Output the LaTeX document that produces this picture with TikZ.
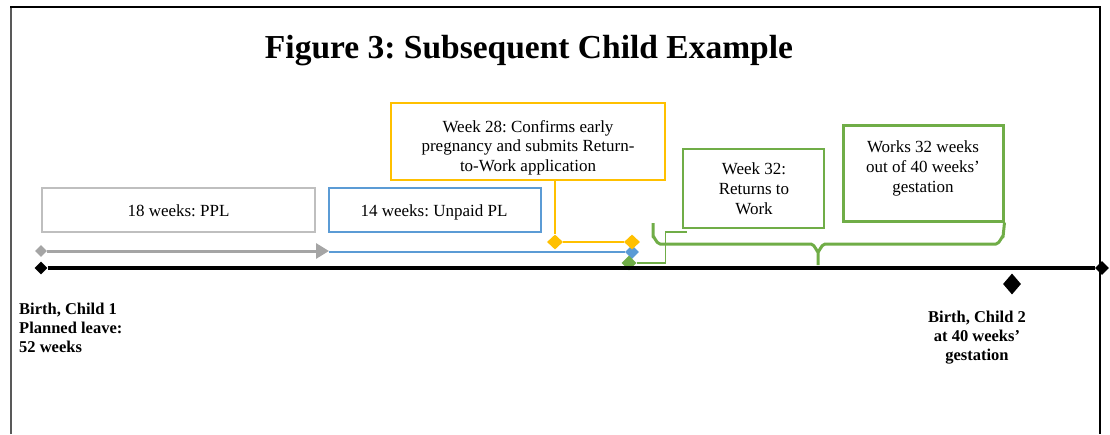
\documentclass[tikz,border=0pt]{standalone}
\usepackage{fontspec}
\setmainfont{Liberation Serif}
\frenchspacing
\usetikzlibrary{shapes.geometric,arrows.meta}
\definecolor{cgray}{HTML}{A5A5A5}
\definecolor{cgraybox}{HTML}{BFBFBF}
\definecolor{cblue}{HTML}{5B9BD5}
\definecolor{cyellow}{HTML}{FFC000}
\definecolor{cgreen}{HTML}{70AD47}
\definecolor{cframe}{HTML}{595959}
\begin{document}
\begin{tikzpicture}[x=1pt,y=-1pt,
  box/.style={draw,rectangle,inner sep=0pt,line width=1.2pt},
  txt/.style={inner sep=0pt,anchor=north,align=center,font=\fontsize{17}{19.7}\selectfont},
  lbl/.style={inner sep=0pt,font=\fontsize{16.5}{19}\selectfont\bfseries},
  dia/.style={diamond,aspect=1,inner sep=0pt,draw=none}
]
\useasboundingbox (0,0) rectangle (1110,434);
% frame
\draw[cframe,line width=2pt] (11,434) -- (11,6.3);
\draw[black,line width=1.5pt] (10,7) -- (1100,7) -- (1100,434);
% title
\node[inner sep=0pt,anchor=base,font=\fontsize{33.5}{38}\selectfont\bfseries] (title) at (529,58) {Figure 3: Subsequent Child Example};
% boxes
\node[box,draw=cgraybox,minimum width=273pt,minimum height=44pt] (pplbox) at (178.5,210) {};
\node[txt] (ppltxt) at (178.5,204.5) {18 weeks: PPL};
\node[box,draw=cblue,minimum width=212pt,minimum height=44pt] (upbox) at (435,210) {};
\node[txt] (uptxt) at (434,204.5) {14 weeks: Unpaid PL};
\node[box,draw=cyellow,line width=1.5pt,minimum width=274pt,minimum height=77pt] (ybox) at (528,141.5) {};
\node[txt] (ytxt) at (528,120) {Week 28: Confirms early\\pregnancy and submits Return-\\to-Work application};
\node[box,draw=cgreen,minimum width=141pt,minimum height=79pt] (rbox) at (753.5,188.5) {};
\node[txt] (rtxt) at (754,163) {Week 32:\\Returns to\\Work};
\node[box,draw=cgreen,line width=3pt,minimum width=160pt,minimum height=96pt] (wbox) at (923,173) {};
\node[txt] (wtxt) at (923,141) {Works 32 weeks\\out of 40 weeks’\\gestation};
% diamonds
\node[dia,fill=black,minimum width=13pt,minimum height=13pt] (t0) at (41,268) {};
\node[dia,fill=black,minimum width=14pt,minimum height=14pt] (t1) at (1102,268) {};
\node[dia,fill=cgray,minimum width=12pt,minimum height=12pt] (g0) at (41,251) {};
\coordinate (g1) at (329,251);
\node[dia,fill=cblue,minimum width=14pt,minimum height=14pt] (bd) at (632,252) {};
\node[dia,fill=cyellow,minimum width=16pt,minimum height=15pt] (yl) at (555,242) {};
\node[dia,fill=cyellow,minimum width=16pt,minimum height=15pt] (yr) at (632,242) {};
\node[dia,fill=cgreen,minimum width=15pt,minimum height=15pt] (gd) at (629,263) {};
\node[dia,fill=black,minimum width=18pt,minimum height=21pt] (c2) at (1012,284) {};
\coordinate (gc) at (687,232);
% lines
\draw[line width=4pt] (t0) -- (t1);
\draw[cgray,line width=3pt,-{Triangle[length=13pt,width=15pt]}] (g0) -- (g1);
\draw[cblue,line width=2.5pt] (g1 |- bd) -- (bd);
\draw[cyellow,line width=2pt] (yl |- ybox.south) -- (yl) -- (yr);
\draw[cgreen,line width=1.2pt] (gd.east) -- ++(29,0) |- (gc);
% brace
\draw[cgreen,line width=3pt,line join=round]
  (653,223) -- (653,237) to[out=90,in=180] (660,244) -- (811,244)
  to[out=0,in=-90] (818,251) -- (818,265);
\draw[cgreen,line width=3pt,line join=round]
  (818,251) to[out=-90,in=180] (825,244) -- (996,244)
  to[out=0,in=90] (1003,237) -- (wbox.south east);
% labels
\node[lbl,anchor=north west,align=left] (b1l) at (19,303) {Birth, Child 1\\Planned leave:\\52 weeks};
\node[lbl,anchor=north,align=center] (b2l) at (977,311) {Birth, Child 2\\at 40 weeks’\\gestation};
\end{tikzpicture}
\end{document}
